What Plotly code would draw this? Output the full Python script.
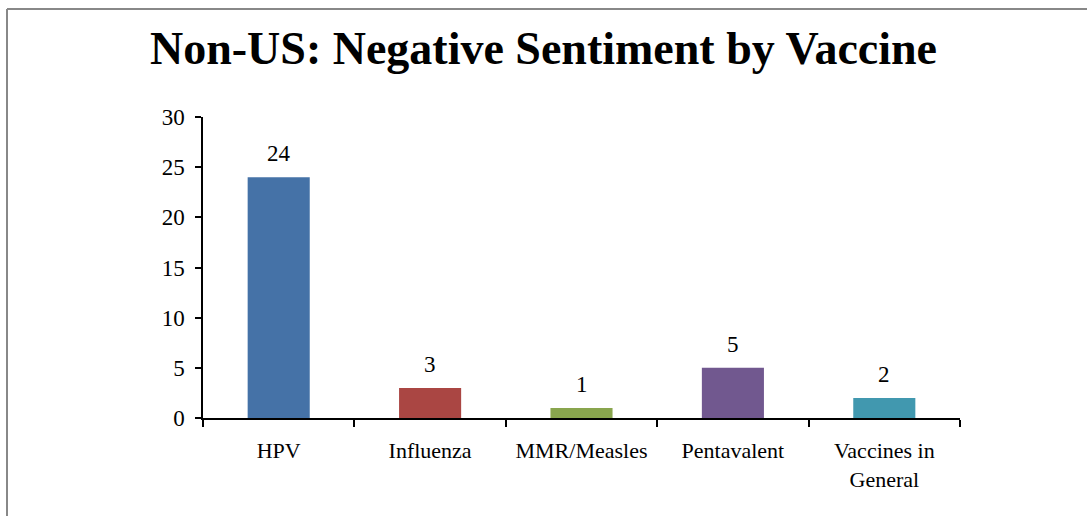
import plotly.graph_objects as go

categories = ["HPV", "Influenza", "MMR/Measles", "Pentavalent", "Vaccines in<br>General"]
values = [24, 3, 1, 5, 2]
colors = ["#4572A7", "#AA4643", "#89A54E", "#71588F", "#4198AF"]
y_ticks = [0, 5, 10, 15, 20, 25, 30]

FONT = "Liberation Serif"

fig = go.Figure(go.Bar(
    x=categories, y=values, marker_color=colors, marker_line_width=0,
    width=0.41, hoverinfo="x+y",
))

for c, v in zip(categories, values):
    fig.add_annotation(x=c, y=v, text=str(v), showarrow=False,
                       yanchor="bottom", yshift=9,
                       font=dict(family=FONT, size=23, color="#000"))

L, R, T, B = 203, 127, 117, 98
W, H = 1087, 516
pw, ph = W - L - R, H - T - B

fig.update_layout(
    width=W, height=H,
    margin=dict(l=L, r=R, t=T, b=B),
    paper_bgcolor="white", plot_bgcolor="white",
    title=dict(text="<b>Non-US: Negative Sentiment by Vaccine</b>",
               font=dict(family=FONT, size=46, color="#000"),
               x=0.5, xanchor="center", y=1 - 48 / H, yanchor="middle"),
    showlegend=False,
    font=dict(family=FONT, size=23, color="#000"),
    xaxis=dict(type="category", tickson="boundaries", ticks="outside", ticklen=7,
               tickcolor="#000", tickwidth=1.5, showline=True, linecolor="#000", linewidth=1.5,
               showgrid=False, ticklabelstandoff=12,
               tickfont=dict(family=FONT, size=22, color="#000")),
    yaxis=dict(range=[0, 30], tickvals=y_ticks, ticks="outside", ticklen=6,
               tickcolor="#000", tickwidth=1.5, showline=True, linecolor="#000", linewidth=1.5,
               showgrid=False, zeroline=False, ticklabelstandoff=6,
               tickfont=dict(family=FONT, size=23, color="#000")),
    shapes=[
        dict(type="line", xref="paper", yref="paper",
             x0=(7 - L) / pw, x1=(W + 5 - L) / pw,
             y0=1 + (T - 9) / ph, y1=1 + (T - 9) / ph,
             line=dict(color="#888888", width=2)),
        dict(type="line", xref="paper", yref="paper",
             x0=(7 - L) / pw, x1=(7 - L) / pw,
             y0=1 + (T - 9) / ph, y1=-(B + 5) / ph,
             line=dict(color="#888888", width=2)),
    ],
)

fig.write_html("out.html", config={"displayModeBar": False},
               post_script="document.body.style.margin='0';document.body.style.overflow='hidden';")
